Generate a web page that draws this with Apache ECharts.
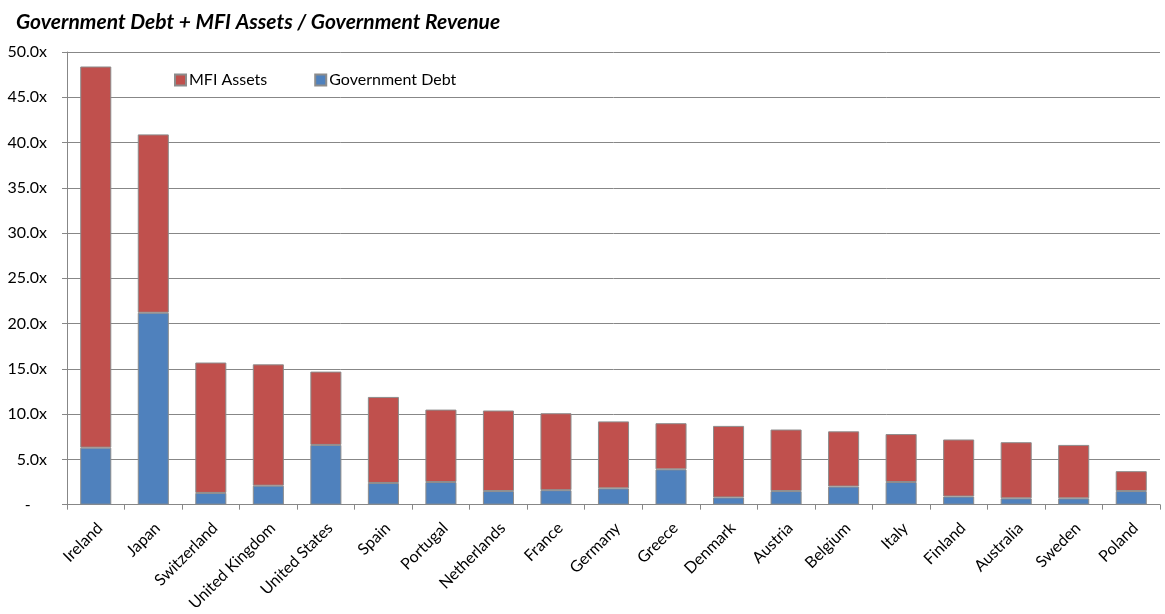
<!DOCTYPE html>
<html>
<head>
<meta charset="utf-8">
<title>Government Debt + MFI Assets / Government Revenue</title>
<script src="https://cdn.jsdelivr.net/npm/echarts@6/dist/echarts.min.js"></script>
<style>
  html, body { margin: 0; padding: 0; background: #ffffff; }
  #chart { width: 1165px; height: 614px; }
</style>
</head>
<body>
<div id="chart"></div>
<script>
// Countries, ordered by total multiple of government revenue
const countries = ['Ireland', 'Japan', 'Switzerland', 'United Kingdom', 'United States', 'Spain',
  'Portugal', 'Netherlands', 'France', 'Germany', 'Greece', 'Denmark', 'Austria', 'Belgium',
  'Italy', 'Finland', 'Australia', 'Sweden', 'Poland'];

// Government debt / government revenue (x)
const governmentDebt = [6.3, 21.2, 1.3, 2.1, 6.6, 2.4, 2.5, 1.5, 1.6, 1.8, 3.9, 0.8, 1.5, 2.0, 2.5, 0.9, 0.7, 0.7, 1.5];

// MFI assets / government revenue (x), stacked on top of debt
const mfiAssets = [42.1, 19.7, 14.4, 13.4, 8.1, 9.5, 8.0, 8.9, 8.5, 7.4, 5.1, 7.9, 6.8, 6.1, 5.3, 6.3, 6.2, 5.9, 2.2];

// Value axis ticks
const yTicks = [0, 5, 10, 15, 20, 25, 30, 35, 40, 45, 50];

const FONT = 'Lato, "Open Sans", sans-serif';
const GRID_GREY = '#878787';
const BAR_EDGE = '#8c8c8c';

const chart = echarts.init(document.getElementById('chart'), null, { renderer: 'canvas' });

chart.setOption({
  animation: false,
  backgroundColor: '#ffffff',
  title: {
    text: 'Government Debt + MFI Assets / Government Revenue',
    left: 11,
    top: 7,
    textStyle: {
      fontFamily: FONT,
      fontSize: 21,
      fontStyle: 'italic',
      fontWeight: 'bold',
      color: '#000000'
    }
  },
  legend: {
    data: ['MFI Assets', 'Government Debt'],
    left: 169,
    top: 67,
    itemWidth: 11,
    itemHeight: 11,
    itemGap: 47,
    icon: 'rect',
    textStyle: { fontFamily: FONT, fontSize: 16, color: '#000000', padding: [0, 0, 0, -2] }
  },
  grid: {
    left: 67,
    right: 5,
    top: 52,
    bottom: 109,
    containLabel: false
  },
  xAxis: {
    type: 'category',
    data: countries,
    axisLine: { lineStyle: { color: GRID_GREY, width: 1 } },
    axisTick: { show: true, length: 5, lineStyle: { color: GRID_GREY } },
    axisLabel: {
      interval: 0,
      rotate: 45,
      margin: 25,
      padding: [0, -6, 0, 0],
      fontFamily: FONT,
      fontSize: 16,
      color: '#000000'
    }
  },
  yAxis: {
    type: 'value',
    min: yTicks[0],
    max: yTicks[yTicks.length - 1],
    interval: yTicks[1] - yTicks[0],
    axisLine: { show: true, lineStyle: { color: GRID_GREY, width: 1 } },
    axisTick: { show: true, length: 5, lineStyle: { color: GRID_GREY } },
    splitLine: { show: true, lineStyle: { color: GRID_GREY, width: 1 } },
    axisLabel: {
      margin: 20,
      fontFamily: FONT,
      fontSize: 16,
      color: '#000000',
      formatter: v => (v === 0 ? '-    ' : v.toFixed(1) + 'x')
    }
  },
  series: [
    {
      name: 'Government Debt',
      type: 'bar',
      stack: 'total',
      barWidth: '54%',
      data: governmentDebt,
      itemStyle: { color: '#4f81bd', borderColor: BAR_EDGE, borderWidth: 1 }
    },
    {
      name: 'MFI Assets',
      type: 'bar',
      stack: 'total',
      barWidth: '54%',
      data: mfiAssets,
      itemStyle: { color: '#c0504d', borderColor: BAR_EDGE, borderWidth: 1 }
    }
  ]
});
</script>
</body>
</html>
